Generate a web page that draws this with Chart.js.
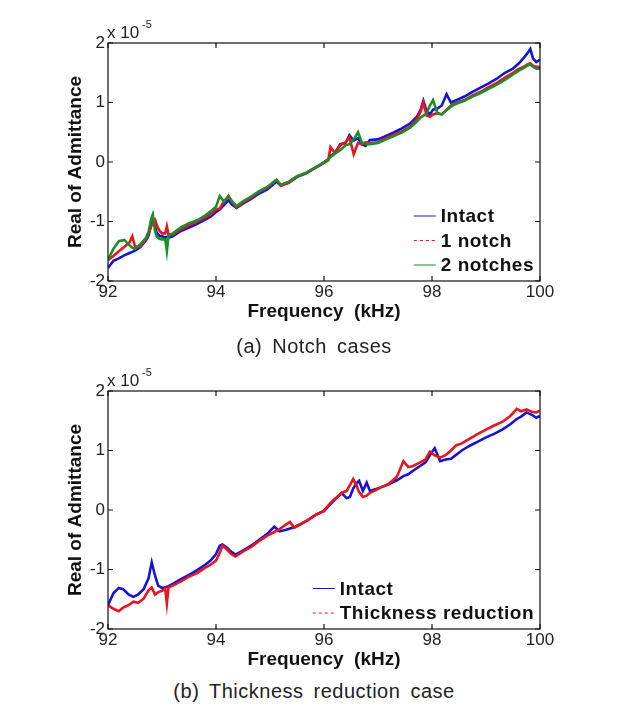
<!DOCTYPE html>
<html>
<head>
<meta charset="utf-8">
<script src="https://cdn.jsdelivr.net/npm/chart.js@4.4.1/dist/chart.umd.min.js"></script>
<style>
  body { margin: 0; background: #fff; width: 618px; height: 715px; position: relative; overflow: hidden; }
  canvas { position: absolute; left: 0; }
  #chartA { top: 0; }
  #chartB { top: 348px; }
  .caption { position: absolute; left: 0; width: 628px; text-align: center; font: 20px "Liberation Sans", Arial, sans-serif; letter-spacing: 0.5px; word-spacing: 4px; color: #222; line-height: 24px; }
</style>
</head>
<body>
<canvas id="chartA" width="618" height="330"></canvas>
<canvas id="chartB" width="618" height="330"></canvas>
<div class="caption" style="top:334px">(a) Notch cases</div>
<div class="caption" style="top:679px">(b) Thickness reduction case</div>
<script>
// (a) notch cases, values in units of 1e-5
const freqA = [92.0, 92.1, 92.2, 92.3, 92.4, 92.45, 92.5, 92.6, 92.7, 92.75, 92.8, 92.83, 92.87, 92.9, 92.95,
  93.0, 93.06, 93.09, 93.12, 93.2, 93.35, 93.5, 93.65, 93.8, 93.9, 94.0, 94.07, 94.15, 94.23, 94.3, 94.38,
  94.5, 94.65, 94.8, 94.95, 95.06, 95.12, 95.2, 95.35, 95.5, 95.65, 95.8, 95.95, 96.08, 96.12, 96.2, 96.3,
  96.4, 96.47, 96.55, 96.63, 96.7, 96.77, 96.85, 97.0, 97.15, 97.3, 97.45, 97.6, 97.72, 97.79, 97.84, 97.9,
  97.96, 98.02, 98.1, 98.18, 98.27, 98.35, 98.45, 98.6, 98.75, 98.9, 99.05, 99.2, 99.35, 99.5, 99.6, 99.7,
  99.77, 99.82, 99.87, 99.93, 100.0];
const intactA = [-1.78, -1.66, -1.62, -1.57, -1.53, -1.51, -1.49, -1.43, -1.32, -1.24, -1.05, -0.93, -1.08, -1.18, -1.24,
  -1.25, -1.27, -1.26, -1.27, -1.25, -1.16, -1.1, -1.04, -0.97, -0.92, -0.84, -0.8, -0.72, -0.64, -0.72, -0.77,
  -0.7, -0.62, -0.53, -0.46, -0.38, -0.33, -0.4, -0.34, -0.25, -0.2, -0.12, -0.04, 0.05, 0.1, 0.15, 0.3,
  0.32, 0.45, 0.36, 0.4, 0.3, 0.27, 0.37, 0.38, 0.44, 0.5, 0.57, 0.65, 0.76, 0.88, 1.03, 0.86,
  0.8, 0.88, 0.9, 0.95, 1.14, 1.0, 1.04, 1.1, 1.18, 1.25, 1.32, 1.4, 1.5, 1.57, 1.65, 1.75,
  1.83, 1.9, 1.74, 1.68, 1.72];
const notch1A = [-1.65, -1.58, -1.5, -1.43, -1.35, -1.25, -1.42, -1.42, -1.3, -1.2, -1.08, -1.0, -0.97, -1.05, -1.15,
  -1.2, -1.2, -1.08, -1.22, -1.22, -1.13, -1.06, -1.0, -0.93, -0.88, -0.8, -0.78, -0.66, -0.57, -0.68, -0.76,
  -0.68, -0.6, -0.5, -0.43, -0.35, -0.3, -0.4, -0.35, -0.25, -0.19, -0.12, -0.04, 0.03, 0.25, 0.15, 0.28,
  0.33, 0.42, 0.13, 0.32, 0.3, 0.33, 0.32, 0.33, 0.4, 0.46, 0.52, 0.6, 0.72, 0.85, 1.0, 0.78,
  0.76, 0.8, 0.82, 0.8, 0.88, 0.95, 1.0, 1.04, 1.12, 1.18, 1.26, 1.33, 1.42, 1.5, 1.56, 1.6,
  1.64, 1.66, 1.62, 1.6, 1.6];
const notch2A = [-1.64, -1.46, -1.33, -1.31, -1.4, -1.44, -1.46, -1.38, -1.28, -1.18, -0.95, -0.88, -1.15, -1.25, -1.29,
  -1.3, -1.3, -1.5, -1.24, -1.2, -1.1, -1.03, -0.98, -0.9, -0.83, -0.75, -0.57, -0.67, -0.58, -0.66, -0.74,
  -0.66, -0.58, -0.49, -0.42, -0.34, -0.3, -0.38, -0.33, -0.24, -0.19, -0.11, -0.03, 0.04, 0.08, 0.14, 0.2,
  0.28, 0.3, 0.38, 0.5, 0.33, 0.3, 0.3, 0.32, 0.38, 0.44, 0.5, 0.58, 0.68, 0.75, 0.78, 0.82,
  0.95, 1.04, 0.82, 0.8, 0.87, 0.93, 0.98, 1.03, 1.1, 1.16, 1.23, 1.3, 1.38, 1.47, 1.53, 1.58,
  1.62, 1.64, 1.6, 1.57, 1.57];

// (b) thickness reduction case
const freqB = [92.0, 92.1, 92.2, 92.28, 92.38, 92.47, 92.56, 92.66, 92.75, 92.81, 92.87, 92.93, 93.0, 93.06, 93.09,
  93.12, 93.2, 93.35, 93.5, 93.65, 93.8, 93.9, 94.0, 94.07, 94.12, 94.2, 94.28, 94.36, 94.48, 94.65, 94.8,
  94.95, 95.08, 95.18, 95.3, 95.37, 95.45, 95.56, 95.7, 95.85, 96.0, 96.12, 96.23, 96.33, 96.42, 96.48, 96.54,
  96.6, 96.65, 96.72, 96.79, 96.85, 96.95, 97.05, 97.2, 97.35, 97.47, 97.56, 97.65, 97.78, 97.88, 97.96, 98.05,
  98.15, 98.25, 98.35, 98.45, 98.55, 98.7, 98.85, 99.0, 99.15, 99.3, 99.45, 99.57, 99.65, 99.75, 99.85, 99.93, 100.0];
const intactB = [-1.6, -1.4, -1.31, -1.33, -1.42, -1.46, -1.42, -1.33, -1.15, -0.88, -1.1, -1.27, -1.31, -1.3, -1.29,
  -1.28, -1.24, -1.16, -1.09, -1.01, -0.92, -0.85, -0.74, -0.6, -0.58, -0.63, -0.7, -0.75, -0.69, -0.6, -0.5,
  -0.4, -0.28, -0.36, -0.33, -0.31, -0.29, -0.24, -0.17, -0.08, -0.02, 0.1, 0.2, 0.28, 0.2, 0.22, 0.36,
  0.45, 0.49, 0.32, 0.46, 0.32, 0.35, 0.38, 0.43, 0.5, 0.57, 0.6, 0.66, 0.74, 0.8, 0.92, 1.04,
  0.82, 0.85, 0.86, 0.93, 1.0, 1.08, 1.15, 1.22, 1.28, 1.35, 1.44, 1.53, 1.57, 1.64, 1.6, 1.55, 1.58];
const thicknessB = [-1.6, -1.66, -1.7, -1.64, -1.6, -1.54, -1.56, -1.49, -1.35, -1.3, -1.42, -1.38, -1.36, -1.32, -1.57,
  -1.3, -1.27, -1.2, -1.12, -1.06, -0.97, -0.92, -0.85, -0.72, -0.6, -0.66, -0.74, -0.78, -0.71, -0.62, -0.52,
  -0.43, -0.37, -0.32, -0.24, -0.2, -0.3, -0.24, -0.17, -0.08, -0.01, 0.12, 0.21, 0.29, 0.32, 0.42, 0.52,
  0.42, 0.3, 0.22, 0.24, 0.29, 0.33, 0.38, 0.44, 0.56, 0.82, 0.72, 0.74, 0.8, 0.85, 0.98, 0.92,
  0.88, 0.92, 1.0, 1.09, 1.12, 1.2, 1.28, 1.35, 1.42, 1.48, 1.58, 1.7, 1.66, 1.69, 1.65, 1.64, 1.67];

const freqRange = [92, 100];
const valueRange = [-2, 2];
const exponentText = ['x 10', '-5'];

const FONT = '"Liberation Sans", Arial, sans-serif';
const BLUE = '#1414d2';
const RED = '#e8141e';
const GREEN = '#1e8c28';

const toPoints = (xs, ys) => xs.map((x, i) => ({ x: x, y: ys[i] }));

// MATLAB style box, inward ticks, exponent and legend inside the axes
const axesFrame = {
  id: 'axesFrame',
  afterDraw(chart) {
    const { ctx, chartArea: a, scales: { x, y } } = chart;
    ctx.save();
    ctx.strokeStyle = '#111';
    ctx.lineWidth = 1.2;
    ctx.strokeRect(a.left, a.top, a.right - a.left, a.bottom - a.top);
    ctx.beginPath();
    x.ticks.forEach(t => {
      const px = x.getPixelForValue(t.value);
      ctx.moveTo(px, a.bottom); ctx.lineTo(px, a.bottom - 5);
      ctx.moveTo(px, a.top); ctx.lineTo(px, a.top + 5);
    });
    y.ticks.forEach(t => {
      const py = y.getPixelForValue(t.value);
      ctx.moveTo(a.left, py); ctx.lineTo(a.left + 5, py);
      ctx.moveTo(a.right, py); ctx.lineTo(a.right - 5, py);
    });
    ctx.stroke();

    ctx.fillStyle = '#222';
    ctx.textBaseline = 'alphabetic';
    ctx.font = '17px ' + FONT;
    ctx.fillText(exponentText[0], a.left - 1, a.top - 5);
    ctx.font = '11px ' + FONT;
    ctx.fillText(exponentText[1], a.left + 34, a.top - 15);

    const items = chart.data.datasets;
    ctx.font = 'bold 19px ' + FONT;
    ctx.letterSpacing = '0.5px';
    const w = Math.max(...items.map(d => ctx.measureText(d.label).width));
    const tx = a.right - 6 - w;
    const rowH = 24.5;
    items.forEach((d, i) => {
      const cy = a.bottom - 16 - (items.length - 1 - i) * rowH;
      ctx.strokeStyle = d.borderColor;
      ctx.lineWidth = 1;
      ctx.setLineDash(d.legendDash || []);
      ctx.beginPath();
      ctx.moveTo(tx - 27, cy);
      ctx.lineTo(tx - 5, cy);
      ctx.stroke();
      ctx.setLineDash([]);
      ctx.fillStyle = '#111';
      ctx.textBaseline = 'middle';
      ctx.fillText(d.label, tx, cy + 1);
    });
    ctx.restore();
  }
};

function makeOptions() {
  return {
    responsive: false,
    animation: false,
    devicePixelRatio: 1,
    layout: { padding: { top: 43, right: 78, left: 0, bottom: 0 } },
    scales: {
      x: {
        type: 'linear',
        min: freqRange[0],
        max: freqRange[1],
        grid: { display: false, drawTicks: false },
        border: { display: false },
        ticks: { stepSize: 2, padding: 1, maxRotation: 0, autoSkip: false, color: '#222', font: { family: FONT, size: 17 } },
        title: { display: true, text: 'Frequency  (kHz)', color: '#111', font: { family: FONT, size: 19, weight: 'bold' }, padding: { top: 0, bottom: 7 } },
        afterFit: s => { s.height = 49; }
      },
      y: {
        min: valueRange[0],
        max: valueRange[1],
        grid: { display: false, drawTicks: false },
        border: { display: false },
        ticks: { stepSize: 1, padding: 3, color: '#222', font: { family: FONT, size: 17 } },
        title: { display: true, text: 'Real of Admittance', color: '#111', font: { family: FONT, size: 19, weight: 'bold' }, padding: { top: 64, bottom: 0 } },
        afterFit: s => { s.width = 108; }
      }
    },
    elements: { point: { radius: 0 }, line: { tension: 0, borderWidth: 2.6 } },
    plugins: { legend: { display: false }, tooltip: { enabled: false } }
  };
}

new Chart(document.getElementById('chartA'), {
  type: 'line',
  data: {
    datasets: [
      { label: 'Intact', data: toPoints(freqA, intactA), borderColor: BLUE, order: 2 },
      { label: '1 notch', data: toPoints(freqA, notch1A), borderColor: RED, order: 1, legendDash: [3, 3] },
      { label: '2 notches', data: toPoints(freqA, notch2A), borderColor: GREEN, order: 0 }
    ]
  },
  options: makeOptions(),
  plugins: [axesFrame]
});

new Chart(document.getElementById('chartB'), {
  type: 'line',
  data: {
    datasets: [
      { label: 'Intact', data: toPoints(freqB, intactB), borderColor: BLUE, order: 1 },
      { label: 'Thickness reduction', data: toPoints(freqB, thicknessB), borderColor: RED, order: 0, legendDash: [3, 3] }
    ]
  },
  options: makeOptions(),
  plugins: [axesFrame]
});
</script>
</body>
</html>
